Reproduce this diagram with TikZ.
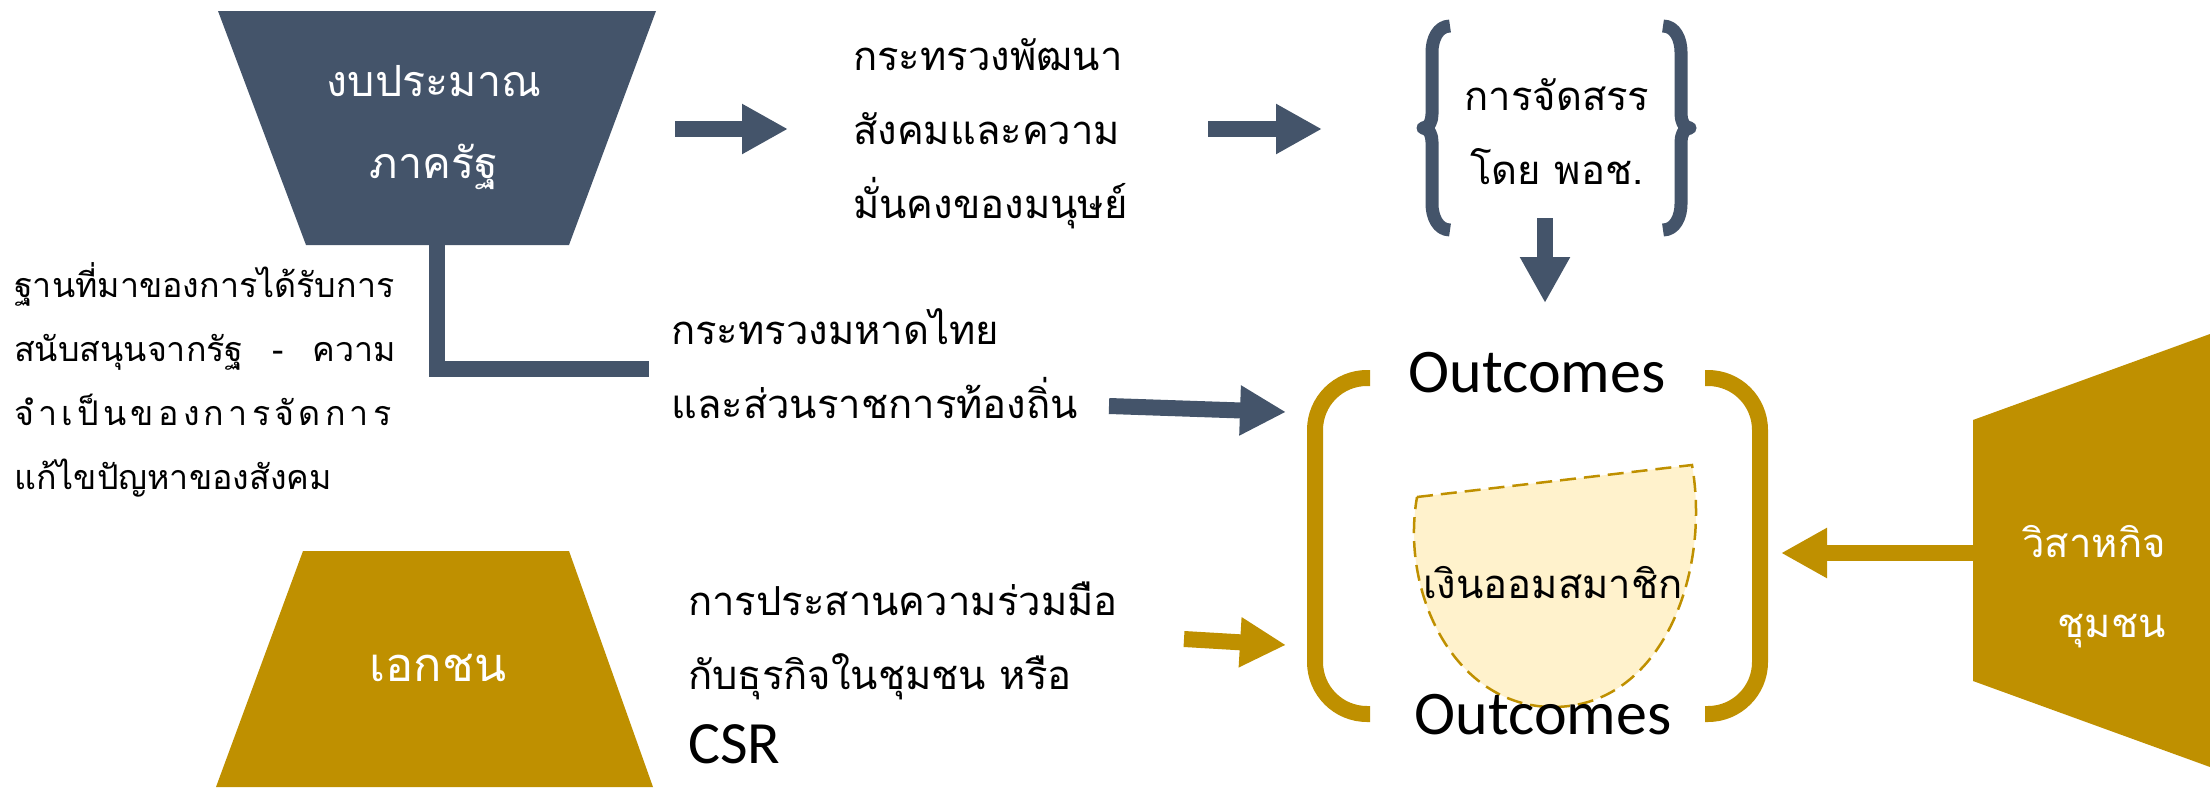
\documentclass[tikz,border=0pt]{standalone}
\usepackage{fontspec}
\usepackage{tikz}
\usetikzlibrary{arrows.meta}
\setmainfont{Carlito}
\newfontfamily\thaifont[Script=Thai]{Loma}
\newfontfamily\thaiwide[Script=Thai, LetterSpace=12.5]{Loma}
\definecolor{slate}{HTML}{44546A}
\definecolor{gold}{HTML}{BF9000}
\definecolor{cream}{HTML}{FFF2CC}
\tikzset{
	thaitext/.style={inner sep=0pt, align=left, font=\thaifont\fontsize{40}{74}\selectfont},
	whitetext/.style={thaitext, align=center, text=white},
	outtext/.style={inner sep=0pt, font=\fontsize{62}{70}\selectfont},
	blockarrow/.style={line width=16pt, -{Triangle[width=47pt,length=46pt]}},
	bracestyle/.style={color=slate, line width=13pt, line join=round},
}

\begin{document}
\begin{tikzpicture}[x=1pt, y=1pt]
			\useasboundingbox (0,0) rectangle (2210,-787);

			\coordinate (ltop) at (437,-240);
			\coordinate (lend) at (649,-369);
			\draw[color=slate, line width=16pt] (ltop) |- (lend);

			\fill[color=slate] (218,-11) -- (656,-11) -- (569,-245) -- (306,-245) -- cycle;
			\fill[color=gold] (303,-551) -- (569,-551) -- (653,-787) -- (216,-787) -- cycle;
			\fill[color=gold] (1973,-420) -- (2210,-334) -- (2210,-767) -- (1973,-681) -- cycle;

			\node[whitetext, font=\thaifont\fontsize{43}{82}\selectfont] (budget) at (434,-128) {งบประมาณ\\ภาครัฐ};
			\node[whitetext, font=\thaifont\fontsize{47}{80}\selectfont] (private) at (438,-668) {เอกชน};
			\node[whitetext, align=right, anchor=east, font=\thaifont\fontsize{40}{80}\selectfont] (enterprise) at (2166,-587) {วิสาหกิจ\\ชุมชน};

			\node[thaitext, anchor=west] (msdhs) at (853,-134) {กระทรวงพัฒนา\\สังคมและความ\\มั่นคงของมนุษย์};
			\node[thaitext, align=center] (codi) at (1557,-132) {การจัดสรร\\โดย พอช.};
			\node[thaitext, anchor=west, font=\thaifont\fontsize{34}{64}\selectfont] (basis) at (14,-380) {ฐานที่มาของการได้รับการ\\\makebox[382pt][s]{สนับสนุนจากรัฐ - ความ}\\{\thaiwide จำเป็นของการจัดการ}\\แก้ไขปัญหาของสังคม};
			\node[thaitext, anchor=west] (moi) at (671,-364) {กระทรวงมหาดไทย\\และส่วนราชการท้องถิ่น};
			\node[thaitext, anchor=west] (csr) at (688,-673) {การประสานความร่วมมือ\\กับธุรกิจในชุมชน หรือ\\{\rmfamily\fontsize{60}{74}\selectfont CSR}};

			\filldraw[fill=cream, draw=gold, line width=2.5pt, dash pattern=on 16pt off 8pt] (1417,-497) -- (1692,-465) to[out=-80, in=0] (1553,-707) to[out=180, in=-100] cycle;
			\node[thaitext] (savings) at (1553,-583) {เงินออมสมาชิก};

			\draw[color=gold, line width=16pt, rounded corners=52pt] (1370,-378) -| (1315,-714) -- (1370,-714);
			\draw[color=gold, line width=16pt, rounded corners=52pt] (1705,-378) -| (1760,-714) -- (1705,-714);
			\node[outtext] (outtop) at (1537,-373) {Outcomes};
			\node[outtext] (outbot) at (1543,-715) {Outcomes};

			\draw[bracestyle] (1450,-26) to[out=180, in=90] (1432,-52) -- (1432,-114) to[out=-90, in=0] (1423,-128) to[out=0, in=90] (1432,-142) -- (1432,-204) to[out=-90, in=180] (1450,-230);
			\draw[bracestyle] (1663,-26) to[out=0, in=90] (1681,-52) -- (1681,-114) to[out=-90, in=180] (1690,-128) to[out=180, in=90] (1681,-142) -- (1681,-204) to[out=-90, in=0] (1663,-230);

			\coordinate (a1s) at (675,-129);
			\coordinate (a1e) at (788,-129);
			\coordinate (a2s) at (1208,-129);
			\coordinate (a2e) at (1322,-129);
			\coordinate (a3s) at (1545,-218);
			\coordinate (a3e) at (1545,-303);
			\coordinate (a4s) at (1109,-406);
			\coordinate (a4e) at (1286,-412);
			\coordinate (a5s) at (1184,-639);
			\coordinate (a5e) at (1286,-645);
			\coordinate (a6s) at (1974,-553);
			\coordinate (a6e) at (1781,-553);

			\draw[blockarrow, color=slate] (a1s) -- (a1e);
			\draw[blockarrow, color=slate] (a2s) -- (a2e);
			\draw[blockarrow, color=slate] (a3s) -- (a3e);
			\draw[blockarrow, color=slate] (a4s) -- (a4e);
			\draw[blockarrow, color=gold] (a5s) -- (a5e);
			\draw[blockarrow, color=gold] (a6s) -- (a6e);
		\end{tikzpicture}
\end{document}
